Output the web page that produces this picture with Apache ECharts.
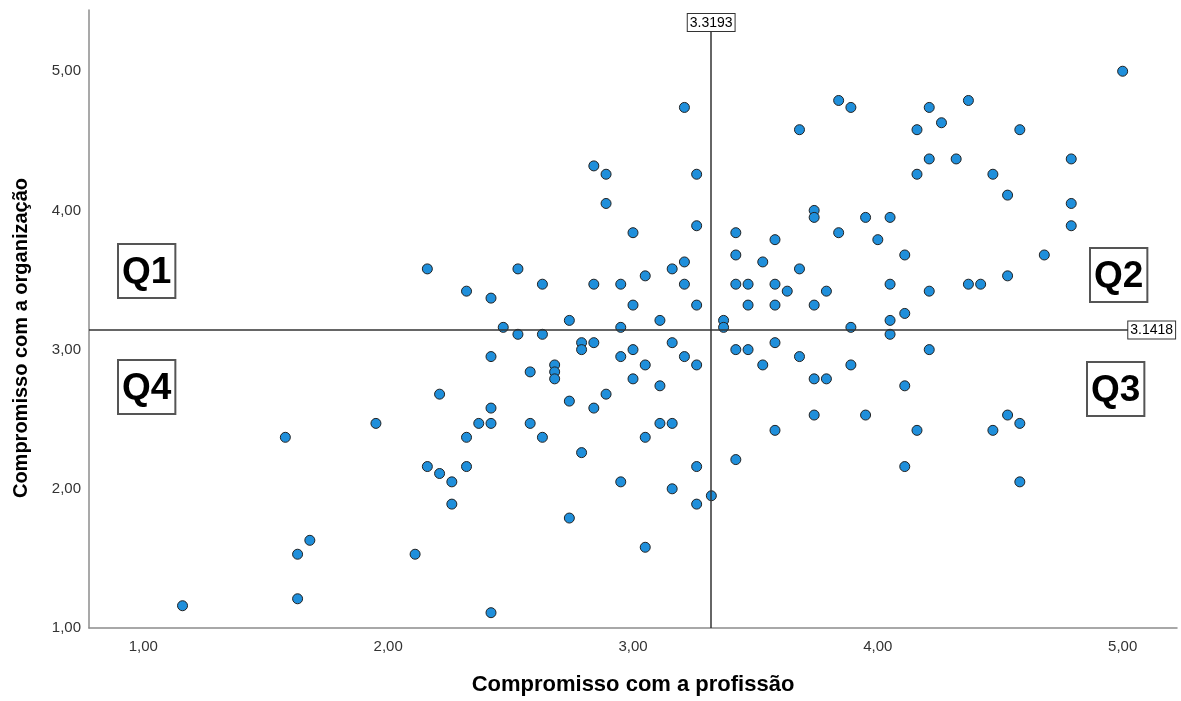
<!DOCTYPE html>
<html>
<head>
<meta charset="utf-8">
<title>Compromisso</title>
<script src="https://cdn.jsdelivr.net/npm/echarts@6/dist/echarts.min.js"></script>
<style>
  html, body { margin: 0; padding: 0; background: #fff; }
  #chart { width: 1181px; height: 701px; }
</style>
</head>
<body>
<div id="chart"></div>
<script>
// Compromisso com a profissão (x)
const profissao = [
  1.16, 1.58, 1.63, 1.63, 1.68, 1.95, 2.11, 2.16, 2.16, 2.21,
  2.21, 2.26, 2.26, 2.32, 2.32, 2.32, 2.37, 2.42, 2.42, 2.42,
  2.42, 2.42, 2.47, 2.53, 2.53, 2.58, 2.58, 2.63, 2.63, 2.63,
  2.68, 2.68, 2.68, 2.74, 2.74, 2.74, 2.79, 2.79, 2.79, 2.84,
  2.84, 2.84, 2.84, 2.89, 2.89, 2.89, 2.95, 2.95, 2.95, 2.95,
  3.00, 3.00, 3.00, 3.00, 3.05, 3.05, 3.05, 3.05, 3.11, 3.11,
  3.11, 3.16, 3.16, 3.16, 3.16, 3.21, 3.21, 3.21, 3.21, 3.26,
  3.26, 3.26, 3.26, 3.26, 3.26, 3.32, 3.37, 3.37, 3.42, 3.42,
  3.42, 3.42, 3.42, 3.47, 3.47, 3.47, 3.53, 3.53, 3.58, 3.58,
  3.58, 3.58, 3.58, 3.63, 3.68, 3.68, 3.68, 3.74, 3.74, 3.74,
  3.74, 3.74, 3.79, 3.79, 3.84, 3.84, 3.89, 3.89, 3.89, 3.95,
  3.95, 4.00, 4.05, 4.05, 4.05, 4.05, 4.11, 4.11, 4.11, 4.11,
  4.16, 4.16, 4.16, 4.21, 4.21, 4.21, 4.21, 4.26, 4.32, 4.37,
  4.37, 4.42, 4.47, 4.47, 4.53, 4.53, 4.53, 4.58, 4.58, 4.58,
  4.68, 4.79, 4.79, 4.79, 5.00
]
// Compromisso com a organização (y)
const organizacao = [
  1.16, 2.37, 1.21, 1.53, 1.63, 2.47, 1.53, 3.58, 2.16, 2.11,
  2.68, 2.05, 1.89, 2.16, 2.37, 3.42, 2.47, 2.47, 2.58, 2.95,
  3.37, 1.11, 3.16, 3.58, 3.11, 2.84, 2.47, 3.47, 3.11, 2.37,
  2.89, 2.84, 2.79, 3.21, 2.63, 1.79, 3.05, 3.00, 2.26, 4.32,
  3.47, 3.05, 2.58, 4.26, 4.05, 2.68, 3.47, 3.16, 2.95, 2.05,
  3.84, 3.32, 3.00, 2.79, 3.53, 2.89, 2.37, 1.58, 3.21, 2.74,
  2.47, 3.58, 3.05, 2.47, 2.00, 4.74, 3.63, 3.47, 2.95, 4.26,
  3.89, 3.32, 2.89, 2.16, 1.89, 1.95, 3.21, 3.16, 3.84, 3.68,
  3.47, 3.00, 2.21, 3.47, 3.32, 3.00, 3.63, 2.89, 3.79, 3.47,
  3.32, 3.05, 2.42, 3.42, 4.58, 3.58, 2.95, 4.00, 3.95, 3.32,
  2.79, 2.53, 3.42, 2.79, 4.79, 3.84, 4.74, 3.16, 2.89, 3.95,
  2.53, 3.79, 3.95, 3.47, 3.21, 3.11, 3.68, 3.26, 2.74, 2.16,
  4.58, 4.26, 2.42, 4.74, 4.37, 3.42, 3.00, 4.63, 4.37, 4.79,
  3.47, 3.47, 4.26, 2.42, 4.11, 3.53, 2.53, 4.58, 2.47, 2.05,
  3.68, 4.37, 4.05, 3.89, 5.00
]
// tick labels shown on both axes
const ticks = [1, 2, 3, 4, 5]
// reference lines (means)
const mediaProfissao = 3.3193
const mediaOrganizacao = 3.1418
const quadrantes = ['Q1', 'Q2', 'Q3', 'Q4']

const xRange = [0.778, 5.222]
const yRange = [1, 5.44]

const points = profissao.map((v, i) => [v, organizacao[i]])

const font = '"Liberation Sans", Arial, sans-serif'

function fmt (v) {
  return v.toFixed(2).replace('.', ',')
}

function qBox (text, left, top) {
  return {
    type: 'text',
    left: left,
    top: top,
    z: 100,
    style: {
      text: text,
      font: 'bold 37px ' + font,
      fill: '#000',
      backgroundColor: '#fff',
      borderColor: '#555',
      borderWidth: 2,
      padding: [9, 3, 6, 3]
    }
  }
}

const refLabel = {
  show: true,
  position: 'end',
  distance: 0,
  color: '#000',
  fontSize: 14,
  fontFamily: font,
  backgroundColor: '#fff',
  borderColor: '#333',
  borderWidth: 1,
  padding: [2, 2, 1, 2]
}

const chart = echarts.init(document.getElementById('chart'), null, { renderer: 'canvas' })

chart.setOption({
  backgroundColor: '#fff',
  animation: false,
  grid: {
    left: 89,
    right: 4,
    top: 10,
    bottom: 73,
    containLabel: false,
    outerBoundsMode: 'none'
  },
  xAxis: {
    type: 'value',
    min: xRange[0],
    max: xRange[1],
    name: 'Compromisso com a profissão',
    nameLocation: 'middle',
    nameGap: 46,
    nameTextStyle: { fontSize: 22, fontWeight: 'bold', color: '#000', fontFamily: font },
    axisLine: { show: true, lineStyle: { color: '#8c8c8c', width: 1.5 } },
    axisTick: { show: false },
    splitLine: { show: false },
    axisLabel: {
      customValues: ticks,
      formatter: fmt,
      margin: 11,
      fontSize: 15,
      color: '#333',
      fontFamily: font
    }
  },
  yAxis: {
    type: 'value',
    min: yRange[0],
    max: yRange[1],
    name: 'Compromisso com a organização',
    nameLocation: 'middle',
    nameGap: 58,
    nameRotate: 90,
    // shift the title a bit downwards, like the original
    nameTextStyle: { fontSize: 20, fontWeight: 'bold', color: '#000', fontFamily: font, padding: [0, 38, 0, 0] },
    axisLine: { show: true, lineStyle: { color: '#8c8c8c', width: 1.5 } },
    axisTick: { show: false },
    splitLine: { show: false },
    axisLabel: {
      customValues: ticks,
      formatter: fmt,
      margin: 8,
      fontSize: 15,
      color: '#333',
      fontFamily: font
    }
  },
  series: [
    {
      type: 'scatter',
      data: points,
      symbol: 'circle',
      symbolSize: 10,
      itemStyle: {
        color: '#1f8fdb',
        borderColor: '#222',
        borderWidth: 1,
        opacity: 1
      },
      markLine: {
        silent: true,
        symbol: 'none',
        lineStyle: { color: '#333', width: 1.5, type: 'solid' },
        data: [
          [
            { coord: [mediaProfissao, yRange[0]] },
            { coord: [mediaProfissao, 5.29], label: Object.assign({}, refLabel, { formatter: String(mediaProfissao) }) }
          ],
          [
            { coord: [xRange[0], mediaOrganizacao] },
            { coord: [5.023, mediaOrganizacao], label: Object.assign({}, refLabel, { formatter: String(mediaOrganizacao) }) }
          ]
        ]
      }
    }
  ],
  graphic: [
    qBox(quadrantes[0], 117, 243),
    qBox(quadrantes[1], 1089, 247),
    qBox(quadrantes[2], 1086, 361),
    qBox(quadrantes[3], 117, 359)
  ]
})
</script>
</body>
</html>
